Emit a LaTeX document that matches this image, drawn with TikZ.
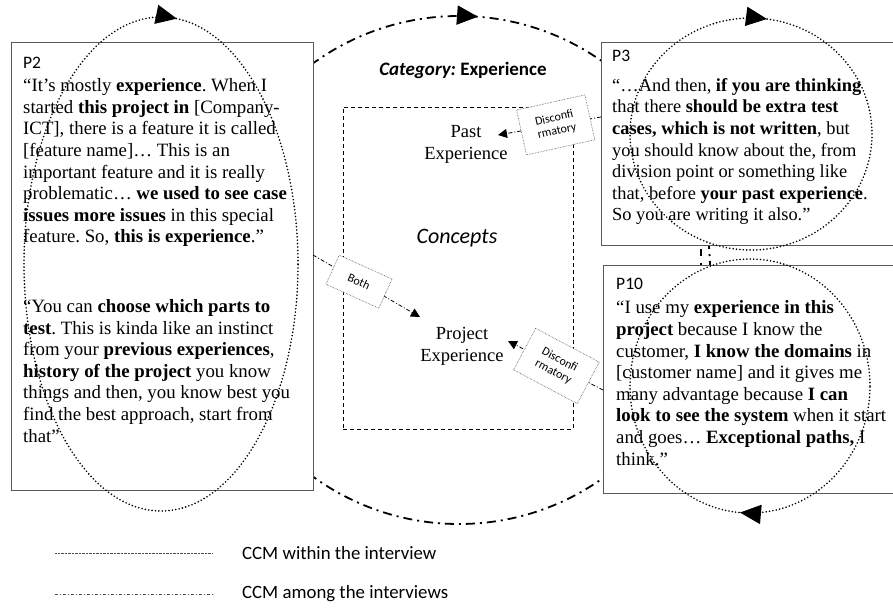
\documentclass[tikz,border=0pt]{standalone}
\usepackage{fontspec}
\setmainfont{Liberation Serif}
\newfontfamily\carl{Carlito}
\usetikzlibrary{arrows.meta,decorations.markings}
\frenchspacing
\tikzset{
  box/.style={draw=black!65, line width=1.3pt, fill=white, inner sep=0pt},
  quote/.style={anchor=base west, align=left, inner sep=0pt, font=\fontsize{18.8}{21.6}\selectfont},
  plabel/.style={anchor=west, inner sep=0pt, font=\carl\fontsize{17.5}{20}\selectfont},
  within/.style={line width=1.8pt, line cap=round, dash pattern=on 0pt off 3.4pt},
  among/.style={line width=1.8pt, dash pattern=on 9pt off 5pt on 2pt off 5pt},
  link/.style={line width=0.8pt, dash pattern=on 4pt off 2pt on 1pt off 2pt, -{Triangle[length=9pt,width=9pt]}},
  tag/.style={draw=black!70, densely dotted, line width=0.6pt, fill=white, inner sep=0pt, font=\carl\fontsize{12}{13.5}\selectfont, align=center},
  concept/.style={align=center, inner sep=0pt, font=\fontsize{18.5}{22}\selectfont},
  legend/.style={anchor=west, inner sep=0pt, font=\carl\fontsize{18.8}{22}\selectfont},
  tipmark/.style={postaction={decorate, decoration={markings, mark=at position #1 with {\arrowreversed[solid]{Triangle[length=21pt,width=19pt]}}}}}
}
\begin{document}
\begin{tikzpicture}[x=1pt,y=-1pt]
\useasboundingbox (0,0) rectangle (893,612);

% big ellipse (CCM among the interviews)
\draw[among, tipmark=0.238] (459,270) ellipse [x radius=251pt, y radius=254pt];

% boxes
\node[box, anchor=north west, minimum width=302pt, minimum height=448pt] (p2) at (11,42) {};
\node[box, anchor=north west, minimum width=300pt, minimum height=203pt] (p3) at (601,42) {};
\node[box, anchor=north west, minimum width=300pt, minimum height=228pt] (p10) at (603,265) {};

% small link between P3 and P10
\coordinate (m1) at (701,245);
\coordinate (m2) at (701,266);
\draw[line width=1.3pt, dash pattern=on 0pt off 4pt on 7pt off 7pt on 2pt off 10pt] (m1) -- (m2);

% P2 text (anchor = baseline of last line)
\node[plabel] (p2l) at (23,63) {P2};
\node[quote] (p2a) at (23,243) {“It’s mostly \textbf{experience}. When I\\
started \textbf{this project in} [Company-\\
ICT], there is a feature it is called\\[0pt]
[feature name]… This is an\\
important feature and it is really\\
problematic… \textbf{we used to see case}\\
\textbf{issues more issues} in this special\\
feature. So, \textbf{this is experience}.”};
\node[quote] (p2b) at (23,442) {“You can \textbf{choose which parts to}\\
\textbf{test}. This is kinda like an instinct\\
from your \textbf{previous experiences},\\
\textbf{history of the project} you know\\
things and then, you know best you\\
find the best approach, start from\\
that”};

% P3 text
\node[plabel] (p3l) at (612,56) {P3};
\node[quote, font=\fontsize{18.4}{21.6}\selectfont] (p3a) at (612,221) {“…And then, \textbf{if you are thinking}\\
that there \textbf{should be extra test}\\
\textbf{cases, which is not written}, but\\
you should know about the, from\\
division point or something like\\
that, before \textbf{your past experience}.\\
So you are writing it also.”};

% P10 text
\node[plabel] (p10l) at (616,284) {P10};
\node[quote] (p10a) at (616,465) {“I use my \textbf{experience in this}\\
\textbf{project} because I know the\\
customer, \textbf{I know the domains} in\\[0pt]
[customer name] and it gives me\\
many advantage because \textbf{I can}\\
\textbf{look to see the system} when it start\\
and goes… \textbf{Exceptional paths,} I\\
think.”};

% dotted ellipses (CCM within the interview)
\draw[within, tipmark=0.237] (161,264) ellipse [x radius=137pt, y radius=247pt];
\draw[within, tipmark=0.2285] (751,134) ellipse [x radius=121pt, y radius=116pt];
\draw[within, tipmark=0.737] (750,386) ellipse [x radius=120pt, y radius=127pt];

% category
\node[inner sep=0pt, font=\carl\fontsize{19}{22}\selectfont] (cat) at (463,70) {\bfseries\itshape Category:\upshape\ Experience};
\node[draw, line width=0.9pt, dash pattern=on 4pt off 3pt, anchor=north west, minimum width=230pt, minimum height=322pt, inner sep=0pt] (cbox) at (343,107) {};
\node[inner sep=0pt, font=\carl\itshape\fontsize{22}{25}\selectfont] (conc) at (457,238) {Concepts};
\node[concept] (past) at (466,144) {Past\\Experience};
\node[concept] (proj) at (462,346) {Project\\Experience};

% connectors
\coordinate (b1) at (313,255);
\coordinate (b2) at (420,317);
\draw[link] (b1) -- node[tag, pos=0.43, rotate=-24.4, minimum width=58pt, minimum height=32pt] (both) {Both} (b2);
\coordinate (d1) at (601,117);
\coordinate (d2) at (498,135);
\draw[link] (d1) -- node[tag, pos=0.44, rotate=12.5, minimum width=70pt, minimum height=46pt] (dis1) {Disconfi\\rmatory} (d2);
\coordinate (e1) at (603,390);
\coordinate (e2) at (508,341);
\draw[link] (e1) -- node[tag, pos=0.49, rotate=-28, minimum width=72pt, minimum height=47pt] (dis2) {Disconfi\\rmatory} (e2);

% legend
\coordinate (l1a) at (55,553);
\coordinate (l1b) at (213,553);
\coordinate (l2a) at (55,594);
\coordinate (l2b) at (213,594);
\draw[line width=0.6pt, black!70, dash pattern=on 0.6pt off 0.8pt] (l1a) -- (l1b);
\draw[line width=0.7pt, black!70, dash pattern=on 3pt off 2pt on 1pt off 2pt] (l2a) -- (l2b);
\node[legend] (leg1) at (242,553) {CCM within the interview};
\node[legend] (leg2) at (242,594) {CCM among the interviews};
\end{tikzpicture}
\end{document}
